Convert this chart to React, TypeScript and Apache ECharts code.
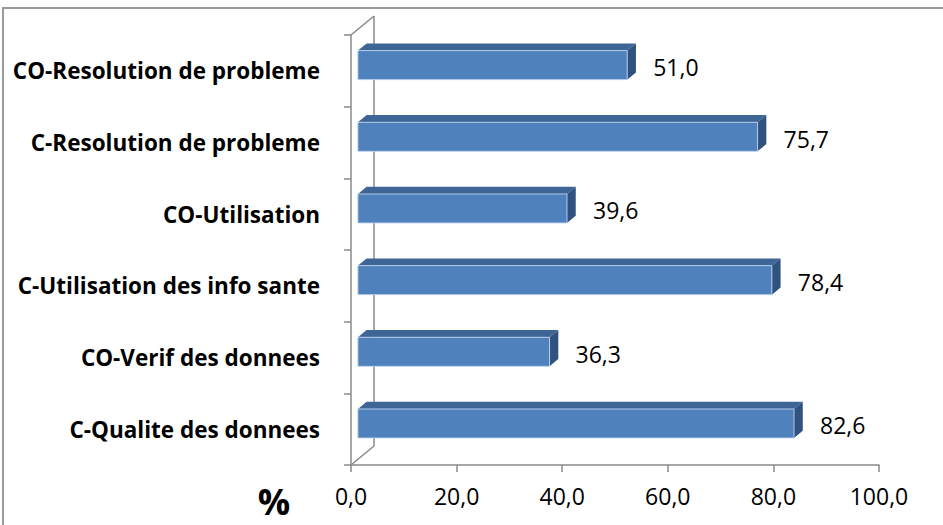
import React, { useEffect, useRef } from "react";
import * as echarts from "echarts";

const categories = [
  "C-Qualite des donnees",
  "CO-Verif des donnees",
  "C-Utilisation des info sante",
  "CO-Utilisation",
  "C-Resolution de probleme",
  "CO-Resolution de probleme",
];
const values = [82.6, 36.3, 78.4, 39.6, 75.7, 51.0];
const axisMin = 0;
const axisMax = 100;
const axisInterval = 20;
const axisTitle = "%";

const fmt = (v: number) => v.toFixed(1).replace(".", ",");

const DX = 23;
const DY = 19;
const FRONT = 0.3;
const BACK = 0.68;
const FONT = "'Open Sans', sans-serif";
const AXIS_GRAY = "#8a8a8a";

export default function App() {
  const ref = useRef<HTMLDivElement>(null);
  useEffect(() => {
    if (!ref.current) return;
    const chart = echarts.init(ref.current, undefined, { renderer: "svg" });
    chart.setOption({
      animation: false,
      backgroundColor: "#ffffff",
      grid: { left: 351, right: 64, top: 35, bottom: 60, containLabel: false },
      xAxis: {
        type: "value",
        min: axisMin,
        max: axisMax,
        interval: axisInterval,
        splitLine: { show: false },
        axisLine: { show: true, lineStyle: { color: AXIS_GRAY, width: 1.5 } },
        axisTick: { show: true, length: 7, lineStyle: { color: AXIS_GRAY, width: 1.5 } },
        axisLabel: {
          formatter: (v: number) => fmt(v),
          color: "#000",
          fontFamily: FONT,
          fontSize: 23,
          margin: 19,
        },
      },
      yAxis: {
        type: "category",
        data: categories,
        axisLine: { show: true, lineStyle: { color: AXIS_GRAY, width: 1.5 } },
        axisTick: { show: true, length: 7, lineStyle: { color: AXIS_GRAY, width: 1.5 } },
        axisLabel: {
          color: "#000",
          fontFamily: FONT,
          fontWeight: "bold",
          fontSize: 22.5,
          margin: 31,
        },
      },
      graphic: [
        {
          type: "rect",
          shape: { x: 3, y: 8, width: 1200, height: 900 },
          style: { fill: "none", stroke: "#9a9a9a", lineWidth: 2 },
          silent: true,
        },
        {
          type: "text",
          x: 274,
          y: 501,
          style: {
            text: axisTitle,
            fill: "#000",
            font: `bold 36px ${FONT}`,
            align: "center",
            verticalAlign: "middle",
          },
        },
      ],
      series: [
        {
          type: "custom",
          name: "wall",
          z: 1,
          clip: false,
          data: [[0, 0]],
          encode: { x: 0, y: 1 },
          renderItem: (params: any) => {
            const cs = params.coordSys;
            const x = cs.x;
            const y = cs.y;
            const h = cs.height;
            const ls = { stroke: AXIS_GRAY, lineWidth: 1.5, fill: "none" };
            return {
              type: "group",
              children: [
                { type: "line", shape: { x1: x, y1: y, x2: x + DX, y2: y - DY }, style: ls },
                { type: "line", shape: { x1: x + DX, y1: y - DY, x2: x + DX, y2: y + h - DY }, style: ls },
                { type: "line", shape: { x1: x, y1: y + h, x2: x + DX, y2: y + h - DY }, style: ls },
              ],
            };
          },
        },
        {
          type: "custom",
          name: "bars",
          z: 2,
          clip: false,
          data: values.map((v, i) => [v, i]),
          encode: { x: 0, y: 1 },
          renderItem: (params: any, api: any) => {
            const v = api.value(0);
            const cat = api.value(1);
            const p0 = api.coord([0, cat]);
            const p1 = api.coord([v, cat]);
            const band = api.size([0, 1])[1];
            const bh = band * 0.405;
            const yc = p0[1];
            const fx = DX * FRONT;
            const fy = DY * FRONT;
            const ddx = DX * (BACK - FRONT);
            const ddy = DY * (BACK - FRONT);
            const x0 = p0[0] + fx;
            const x1 = p1[0] + fx;
            const yt = yc - bh / 2 - fy;
            const yb = yc + bh / 2 - fy;
            return {
              type: "group",
              children: [
                {
                  type: "polygon",
                  shape: { points: [[x0, yt], [x1, yt], [x1 + ddx, yt - ddy], [x0 + ddx, yt - ddy]] },
                  style: { fill: "#3d6596" },
                },
                {
                  type: "polygon",
                  shape: { points: [[x1, yt], [x1 + ddx, yt - ddy], [x1 + ddx, yb - ddy], [x1, yb]] },
                  style: { fill: "#30527f" },
                },
                {
                  type: "rect",
                  shape: { x: x0, y: yt, width: x1 - x0, height: yb - yt },
                  style: { fill: "#4f81bd", stroke: "rgba(190,210,238,0.9)", lineWidth: 1 },
                },
                {
                  type: "text",
                  style: {
                    text: fmt(v),
                    x: x1 + 26,
                    y: yc - 4,
                    align: "left",
                    verticalAlign: "middle",
                    fill: "#000",
                    font: `23px ${FONT}`,
                  },
                },
              ],
            };
          },
        },
      ],
    });
    return () => chart.dispose();
  }, []);
  return (
    <div
      ref={ref}
      style={{ position: "fixed", left: 0, top: 0, width: 943, height: 525 }}
    />
  );
}
